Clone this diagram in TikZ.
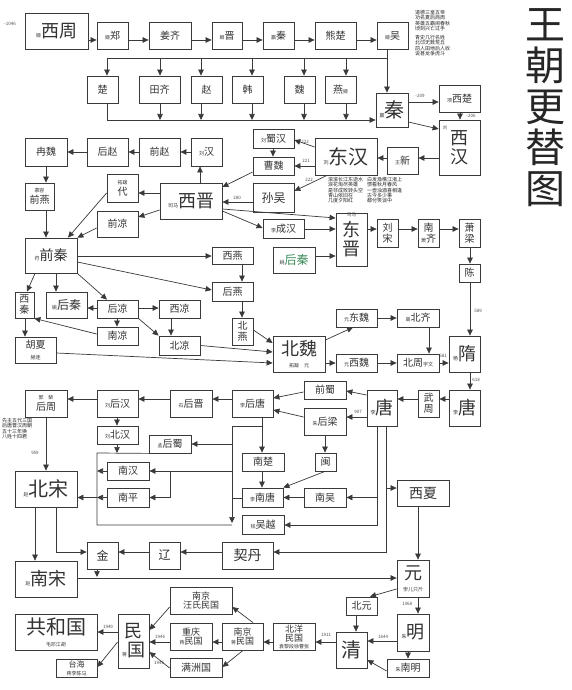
\documentclass[tikz,border=0pt]{standalone}
\usepackage{fontspec}
\setmainfont{Noto Sans CJK SC}
\usetikzlibrary{arrows.meta}
\definecolor{lncol}{HTML}{3A3A3A}
\definecolor{hqgreen}{HTML}{3C8C5A}
\newcommand{\smp}[1]{{\fontsize{5}{5}\selectfont #1}}
\newcommand{\fbig}{\fontsize{18}{19}\selectfont}
\newcommand{\fhuge}{\fontsize{20}{21}\selectfont}
\newcommand{\fmed}{\fontsize{14}{15}\selectfont}
\newcommand{\fmid}{\fontsize{12}{13}\selectfont}
\newcommand{\bxn}[7][]{\node[bx,minimum width=#5pt,minimum height=#6pt,#1] (#2) at (#3,#4) {#7};}
\tikzset{
  bx/.style={draw=lncol, line width=0.8pt, inner sep=0pt, align=center, font=\fontsize{10}{11}\selectfont, text=black!80},
  arr/.style={draw=lncol, line width=0.7pt, -{Triangle[length=6pt,width=5.5pt]}},
  ln/.style={draw=lncol, line width=0.7pt},
  num/.style={font=\fontsize{4.5}{5}\selectfont, text=black!70, inner sep=0pt},
  tiny/.style={font=\fontsize{5}{5.3}\selectfont, text=black!85, inner sep=0pt, align=left},
}
\begin{document}
\begin{tikzpicture}[x=1pt,y=-1pt]
\fill[white] (0,0) rectangle (572,690);
\useasboundingbox (0,0) rectangle (572,690);
% title
\node[font=\fontsize{40}{41}\selectfont, align=center, inner sep=0pt, text=black!85] (title) at (545,108) {王\\朝\\更\\替\\图};
% poems
\node[tiny, anchor=north west] (poem1a) at (415,10) {道德三皇五帝\\功名夏后商周\\英雄五霸闹春秋\\顷刻兴亡过手};
\node[tiny, anchor=north west] (poem1b) at (415,35) {青史几行名姓\\北邙无数荒丘\\前人田地后人收\\说甚龙争虎斗};
\node[tiny, anchor=north west] (poem2a) at (328,177) {滚滚长江东逝水\\浪花淘尽英雄\\是非成败转头空\\青山依旧在\\几度夕阳红};
\node[tiny, anchor=north west] (poem2b) at (367,177) {白发渔樵江渚上\\惯看秋月春风\\一壶浊酒喜相逢\\古今多少事\\都付笑谈中};
\node[tiny, anchor=north west] (poem3) at (2,418) {先主五代三国\\后唐晋汉周朝\\五十三年换\\八姓十四君};

% nodes
\bxn[font=\fbig]{xizhou}{56.5}{31}{63}{36}{\smp{姬}西周}
\bxn{zheng}{112.5}{35.5}{31}{27}{\smp{姬}郑}
\bxn{jiangqi}{170}{35.5}{42}{27}{姜齐}
\bxn{jin}{227}{35.5}{30}{27}{\smp{姬}晋}
\bxn{qinz}{278.5}{35.5}{31}{27}{\smp{嬴}秦}
\bxn{xiongchu}{335.5}{35.5}{41}{27}{熊楚}
\bxn{wu}{392.5}{35.5}{31}{27}{\smp{姬}吴}
\bxn{chu}{102.5}{89.5}{31}{27}{楚}
\bxn{tianqi}{159.5}{89.5}{41}{27}{田齐}
\bxn{zhao}{206.5}{89.5}{31}{27}{赵}
\bxn{han}{247.5}{89.5}{31}{27}{韩}
\bxn{wei}{299.5}{89.5}{31}{27}{魏}
\bxn{yan}{340.5}{89.5}{31}{27}{燕\smp{姬}}
\bxn[font=\fhuge]{qin}{392}{110}{32}{34}{\smp{嬴}秦}
\bxn{xichu}{459.5}{98.5}{41}{27}{\smp{项}西楚}
\bxn[font=\fbig]{xihan}{459.5}{147.5}{41}{55}{西\\汉}
\node[num] (xihanl) at (445,128) {刘};
\bxn{wangxin}{402.5}{160.5}{31}{27}{\smp{王}新}
\bxn[font=\fhuge]{donghan}{346}{156.5}{62}{37}{\smp{刘}东汉}
\bxn{shuhan}{273.5}{138.5}{41}{19}{\smp{刘}蜀汉}
\bxn{caowei}{273.5}{166}{41}{18}{曹魏}
\bxn{liuhan}{206.5}{152}{31}{28}{\smp{刘}汉}
\bxn{qianzhao}{159.5}{152}{41}{28}{前赵}
\bxn{houzhao}{107.5}{152}{41}{28}{后赵}
\bxn{ranwei}{46}{152}{42}{28}{冉魏}
\bxn{qianyan}{39.5}{196.5}{29}{27}{\smp{慕容}\\前燕}
\bxn[font=\fbig]{xijin}{191}{201}{62}{36}{\smp{司马}西晋}
\bxn{dai}{122.5}{188}{31}{28}{\smp{拓跋}\\代}
\bxn{qianliang}{117.5}{224}{41}{26}{前凉}
\bxn[font=\fmed]{qianqin}{51}{255.5}{52}{35}{\smp{苻}前秦}
\bxn{xiqin}{24.5}{305}{19}{26}{西\\秦}
\bxn[font=\fmid]{houqin}{66.5}{305}{41}{26}{\smp{姚}后秦}
\bxn{houliang}{117.5}{309}{41}{18}{后凉}
\bxn{xiliang}{179.5}{309}{41}{18}{西凉}
\bxn{nanliang}{117.5}{336}{41}{18}{南凉}
\bxn{beiliang}{179.5}{345.5}{41}{19}{北凉}
\bxn{huxia}{35.5}{350}{41}{26}{胡夏\\\smp{赫连}}
\bxn{xiyan}{232.5}{255.5}{41}{17}{西燕}
\bxn{houyan}{232.5}{291.5}{41}{19}{后燕}
\bxn{beiyan}{242.5}{331.5}{21}{27}{北\\燕}
\bxn[font=\fmid]{sunwu}{273.5}{197.5}{41}{29}{孙吴}
\bxn{chenghan}{283.5}{228.5}{41}{19}{\smp{李}成汉}
\bxn[font=\fmid]{houqinb}{294}{260}{42}{26}{\smp{姚}\textcolor{hqgreen}{后秦}}
\bxn[font=\fbig]{dongjin}{351.5}{239.5}{31}{53}{东\\晋}
\node[num] (dongjinl) at (351.5,215) {司马};
\bxn{liusong}{387.5}{233}{21}{28}{刘\\宋}
\bxn{nanqi}{428.5}{233}{21}{28}{南\\\smp{萧}齐}
\bxn{xiaoliang}{469.5}{233}{21}{28}{萧\\梁}
\bxn{chen}{469.5}{273}{21}{18}{陈}
\bxn[font=\fbig]{sui}{464.5}{354}{31}{36}{\smp{杨}隋}
\bxn[font=\fbig]{beiwei}{299}{354}{52}{36}{北魏\\[-7pt]\smp{拓跋\quad 元}}
\bxn{dongwei}{356.5}{318}{41}{18}{\smp{元}东魏}
\bxn{xiwei}{356.5}{363}{41}{18}{\smp{元}西魏}
\bxn{beiqi}{418}{318}{42}{18}{\smp{高}北齐}
\bxn{beizhou}{418}{363}{42}{18}{北周\smp{宇文}}
\bxn[font=\fbig]{tang}{464.5}{408}{31}{36}{\smp{李}唐}
\bxn{wuzhou}{428.5}{403.5}{21}{27}{武\\周}
\bxn[font=\fbig]{tangb}{382}{408}{30}{36}{\smp{李}唐}
\bxn{qianshu}{325}{390}{42}{18}{前蜀}
\bxn{houliangb}{325}{421.5}{42}{27}{\smp{朱}后梁}
\bxn{houtang}{252.5}{403.5}{41}{27}{\smp{李}后唐}
\bxn{houjin}{191}{403.5}{42}{27}{\smp{石}后晋}
\bxn{houhan}{117.5}{403.5}{41}{27}{\smp{刘}后汉}
\bxn{houzhou}{46}{403.5}{42}{27}{\smp{郭\quad 柴}\\后周}
\bxn{beihan}{117.5}{435}{41}{18}{\smp{刘}北汉}
\bxn{houshu}{170}{444}{42}{18}{\smp{孟}后蜀}
\bxn{nanhan}{128}{471}{42}{18}{南汉}
\bxn{nanping}{128}{497.5}{42}{19}{南平}
\bxn[font=\fhuge]{beisong}{46}{489}{62}{36}{\smp{赵}北宋}
\bxn{nanchu}{263}{462}{42}{18}{南楚}
\bxn{min}{325.5}{462}{21}{18}{闽}
\bxn{nantang}{262.5}{497.5}{41}{19}{\smp{李}南唐}
\bxn{nanwu}{325}{497.5}{42}{19}{南吴}
\bxn{wuyue}{263}{524.5}{42}{19}{\smp{钱}吴越}
\bxn[font=\fmed]{xixia}{423}{493}{52}{26}{西夏}
\bxn[font=\fmed]{qidan}{247.5}{555.5}{51}{27}{契丹}
\bxn[font=\fmid]{liao}{164.5}{555.5}{31}{27}{辽}
\bxn[font=\fmid]{jinn}{102.5}{555.5}{31}{27}{金}
\bxn[font=\fbig]{nansong}{46}{579}{62}{36}{\smp{赵}南宋}
\bxn[font=\fbig]{yuan}{413}{578.5}{32}{37}{元\\[-7pt]\smp{孛儿只斤}}
\bxn{beiyuan}{361.5}{606}{31}{18}{北元}
\bxn[font=\fhuge]{qing}{351.5}{650}{31}{36}{清}
\bxn[font=\fbig]{ming}{413}{632.5}{32}{37}{\smp{朱}明}
\bxn{nanming}{408}{668}{42}{18}{\smp{朱}南明}
\bxn[font=\fontsize{9}{9}\selectfont]{beiyang}{294}{636.5}{42}{27}{北洋\\民国\\[-2pt]\smp{袁黎段徐曹张}}
\bxn[font=\fontsize{9}{9}\selectfont]{nanjing}{242.5}{636.5}{41}{27}{南京\\\smp{蒋}民国}
\bxn[font=\fontsize{9}{9}\selectfont]{wangshi}{201}{600.5}{62}{27}{南京\\汪氏民国}
\bxn[font=\fontsize{9}{9}\selectfont]{chongqing}{191}{636.5}{42}{27}{重庆\\\smp{蒋}民国}
\bxn{manzhou}{196}{667.5}{52}{19}{满洲国}
\bxn[font=\fbig]{minguo}{133.5}{641}{31}{54}{民\\\smp{蒋}国}
\bxn[font=\fhuge]{gongheguo}{56}{632}{82}{36}{共和国\\[-9pt]\smp{毛邓江胡}}
\bxn[font=\fontsize{8}{8}\selectfont]{taihai}{76.5}{668}{41}{18}{台海\\\smp{蒋李陈马}}

% number labels
\node[num] (n1046) at (10,24) {-1046};
\node[num] (n209) at (420,96) {-209};
\node[num] (n206) at (471,116) {-206};
\node[num] (n222a) at (305,142) {222};
\node[num] (n221) at (306,161) {221};
\node[num] (n222b) at (309,180) {222};
\node[num] (n280) at (237,198) {280};
\node[num] (n589) at (478,311) {589};
\node[num] (n581) at (443,356) {581};
\node[num] (n618) at (476,380) {618};
\node[num] (n907) at (358,412) {907};
\node[num] (n959) at (35,453) {959};
\node[num] (n1368) at (407,604) {1368};
\node[num] (n1644) at (383,637) {1644};
\node[num] (n1911) at (326,635) {1911};
\node[num] (n1949) at (108,627) {1949};
\node[num] (n1946) at (160,637) {1946};
\node[num] (n1945) at (159,663) {1945};

% ---- connectors: Zhou / Warring states
\foreach \a/\b in {xizhou/zheng,zheng/jiangqi,jiangqi/jin,jin/qinz,qinz/xiongchu,xiongchu/wu}
  \draw[arr] (\a.east |- 0,40) -- (\b.west |- 0,40);
\draw[arr] (wu.south -| 387,0) -- (qin.north -| 387,0);
\draw[ln] (107,58) -- (387,58);
\foreach \n/\x in {chu/107,tianqi/160,zhao/201,han/252,wei/304,yan/346}
  \draw[arr] (\x,58) -- (\n.north -| \x,0);
\draw[arr] (chu.south -| 107,0) -- (107,120) -- (qin.west |- 0,120);
\foreach \n/\x in {tianqi/160,zhao/201,han/252,wei/304,yan/346}
  \draw[arr] (\n.south -| \x,0) -- (\x,120);
% Qin / Han
\draw[arr] (qin.east |- 0,102) -- (xichu.west |- 0,102);
\draw[arr] (xichu.south -| 460,0) -- (xihan.north -| 460,0);
\draw[arr] (qin.east |- 0,122) -- (xihan.west |- 0,129);
\draw[arr] (xihan.west |- 0,158) -- (wangxin.east |- 0,158);
\draw[arr] (wangxin.west |- 0,158) -- (donghan.east |- 0,158);
\draw[arr] (donghan.west |- 0,147) -- (shuhan.east |- 0,140);
\draw[arr] (donghan.west |- 0,166) -- (caowei.east |- 0,166);
\draw[arr] (shuhan.south -| 273,0) -- (caowei.north -| 273,0);
\draw[arr] (donghan.south -| 327,0) -- (sunwu.east |- 0,191);
\draw[arr] (caowei.west |- 0,172) -- (xijin.east |- 0,187);
\draw[arr] (sunwu.west |- 0,202) -- (xijin.east |- 0,202);
% Jin / sixteen kingdoms
\draw[arr] (xijin.north -| 200,0) -- (liuhan.south -| 200,0);
\foreach \a/\b in {liuhan/qianzhao,qianzhao/houzhao,houzhao/ranwei}
  \draw[arr] (\a.west |- 0,152) -- (\b.east |- 0,152);
\draw[arr] (ranwei.south -| 46,0) -- (qianyan.north -| 46,0);
\draw[arr] (qianyan.south -| 46,0) -- (qianqin.north -| 46,0);
\draw[arr] (xijin.west |- 0,193) -- (dai.east |- 0,193);
\draw[arr] (xijin.west |- 0,210) -- (qianliang.east |- 0,217);
\draw[arr] (dai.west |- 0,193) -- (qianqin.north -| 68,0);
\draw[arr] (qianliang.west |- 0,228) -- (qianqin.north east);
\draw[arr] (qianqin.south -| 35,0) -- (xiqin.north -| 27,0);
\draw[arr] (qianqin.south -| 56,0) -- (houqin.north -| 56,0);
\draw[arr] (qianqin.south east) -- (houliang.north -| 107,0);
\draw[arr] (houliang.west |- 0,308) -- (houqin.east |- 0,308);
\draw[arr] (houliang.east |- 0,308) -- (xiliang.west |- 0,308);
\draw[arr] (houliang.south -| 117,0) -- (nanliang.north -| 117,0);
\draw[arr] (nanliang.west |- 0,334) -- (xiqin.south east);
\draw[arr] (houliang.south east) -- (beiliang.north west);
\draw[arr] (xiliang.south -| 171,0) -- (beiliang.north -| 171,0);
\draw[arr] (xiqin.south -| 25,0) -- (huxia.north -| 25,0);
\draw[arr] (huxia.east |- 0,353) -- (beiwei.west |- 0,363);
\draw[arr] (beiliang.east) -- (beiwei.west |- 0,352);
\draw[arr] (beiyan.east |- 0,330) -- (beiwei.west |- 0,343);
\draw[arr] (qianqin.east |- 0,256) -- (xiyan.west |- 0,256);
\draw[arr] (qianqin.east |- 0,262) -- (houyan.west |- 0,290);
\draw[arr] (xiyan.south -| 242,0) -- (houyan.north -| 242,0);
\draw[arr] (houyan.south -| 242,0) -- (beiyan.north -| 242,0);
\draw[arr] (xijin.east |- 0,209) -- (dongjin.west |- 0,218);
\draw[arr] (xijin.east |- 0,211) -- (chenghan.west |- 0,228);
\draw[arr] (chenghan.east |- 0,229) -- (dongjin.west |- 0,229);
\draw[arr] (houqinb.east |- 0,256) -- (dongjin.west |- 0,256);
% southern / northern dynasties
\foreach \a/\b in {dongjin/liusong,liusong/nanqi,nanqi/xiaoliang}
  \draw[arr] (\a.east |- 0,229) -- (\b.west |- 0,229);
\draw[arr] (xiaoliang.south -| 470,0) -- (chen.north -| 470,0);
\draw[arr] (chen.south -| 470,0) -- (sui.north -| 470,0);
\draw[arr] (beiwei.east |- 0,340) -- (dongwei.south -| 353,0);
\draw[arr] (beiwei.east |- 0,363) -- (xiwei.west |- 0,363);
\draw[arr] (dongwei.east |- 0,318) -- (beiqi.west |- 0,318);
\draw[arr] (beiqi.south -| 429,0) -- (beizhou.north -| 429,0);
\draw[arr] (xiwei.east |- 0,363) -- (beizhou.west |- 0,363);
\draw[arr] (beizhou.east |- 0,363) -- (sui.west |- 0,363);
% Tang / five dynasties
\draw[arr] (sui.south -| 470,0) -- (tang.north -| 470,0);
\draw[arr] (tang.west |- 0,399) -- (wuzhou.east |- 0,399);
\draw[arr] (wuzhou.west |- 0,399) -- (tangb.east |- 0,399);
\draw[arr] (tangb.west |- 0,395) -- (qianshu.east |- 0,391);
\draw[arr] (tangb.west |- 0,417) -- (houliangb.east |- 0,417);
\draw[arr] (qianshu.west |- 0,392) -- (houtang.east |- 0,398);
\draw[arr] (houliangb.west |- 0,417) -- (houtang.east |- 0,410);
\foreach \a/\b in {houtang/houjin,houjin/houhan,houhan/houzhou}
  \draw[arr] (\a.west |- 0,399) -- (\b.east |- 0,399);
\draw[arr] (houhan.south -| 117,0) -- (beihan.north -| 117,0);
\draw[arr] (houzhou.south -| 46,0) -- (beisong.north -| 46,0);
\draw[arr] (houtang.south -| 262,0) -- (nanchu.north -| 262,0);
\draw[arr] (262,426) -- (232,426) -- (232,523);
\draw[arr] (232,444) -- (houshu.east |- 0,444);
\draw[arr] (232,471) -- (nanhan.east |- 0,471);
\draw[arr] (170,471) -- (170,497.5) -- (nanping.east |- 0,497.5);
\draw[ln] (nantang.west |- 0,498) -- (232,498);
\draw[arr] (nanchu.south -| 262,0) -- (nantang.north -| 262,0);
\draw[arr] (houliangb.south -| 325,0) -- (min.north -| 325,0);
\draw[arr] (min.south -| 325,0) -- (nantang.north east);
\draw[arr] (nanwu.west |- 0,497.5) -- (nantang.east |- 0,497.5);
\draw[arr] (tangb.south -| 377,0) -- (377,525) -- (wuyue.east |- 0,525);
\draw[arr] (377,497.5) -- (nanwu.east |- 0,497.5);
\draw[arr] (tangb.south -| 386,0) -- (386,552) -- (qidan.east |- 0,552);
\draw[arr] (386,488) -- (xixia.west |- 0,488);
\draw[arr] (xixia.south -| 418,0) -- (yuan.north -| 418,0);
% Song bracket
\draw[ln] (houshu.south west) -- (97,453) -- (97,525) -- (232,525);
\draw[arr] (beihan.south -| 117,0) -- (117,453);
\draw[arr] (nanhan.west) -- (97,471);
\draw[arr] (nanping.west) -- (97,497.5);
\draw[arr] (97,497.5) -- (beisong.east |- 0,497.5);
% Song / Yuan
\draw[arr] (beisong.south -| 35,0) -- (nansong.north -| 35,0);
\draw[arr] (beisong.south -| 56,0) -- (56,552) -- (jinn.west |- 0,552);
\draw[arr] (qidan.west |- 0,552) -- (liao.east |- 0,552);
\draw[arr] (liao.west |- 0,552) -- (jinn.east |- 0,552);
\draw[arr] (jinn.south -| 97,0) -- (97,577);
\draw[arr] (nansong.east |- 0,578) -- (yuan.west |- 0,578);
\draw[arr] (yuan.west |- 0,589) -- (beiyuan.north -| 370,0);
\draw[arr] (yuan.south -| 418,0) -- (ming.north -| 418,0);
\draw[arr] (beiyuan.south -| 356,0) -- (qing.north -| 356,0);
\draw[arr] (ming.west |- 0,641) -- (qing.east |- 0,641);
\draw[arr] (ming.south -| 408,0) -- (nanming.north -| 408,0);
\draw[arr] (nanming.west |- 0,671) -- (qing.east |- 0,660);
% Republic
\draw[arr] (qing.west |- 0,642) -- (beiyang.east |- 0,642);
\draw[arr] (beiyang.west |- 0,642) -- (nanjing.east |- 0,642);
\draw[arr] (nanjing.north -| 253,0) -- (wangshi.east |- 0,607);
\draw[arr] (nanjing.west |- 0,642) -- (chongqing.east |- 0,642);
\draw[arr] (nanjing.south -| 243,0) -- (manzhou.east |- 0,667);
\draw[arr] (wangshi.west |- 0,607) -- (minguo.east |- 0,630);
\draw[arr] (chongqing.west |- 0,642) -- (minguo.east |- 0,642);
\draw[arr] (manzhou.west |- 0,668) -- (minguo.east |- 0,652);
\draw[arr] (minguo.west |- 0,632) -- (gongheguo.east |- 0,632);
\draw[arr] (minguo.west |- 0,642) -- (taihai.east |- 0,667);
\end{tikzpicture}
\end{document}
